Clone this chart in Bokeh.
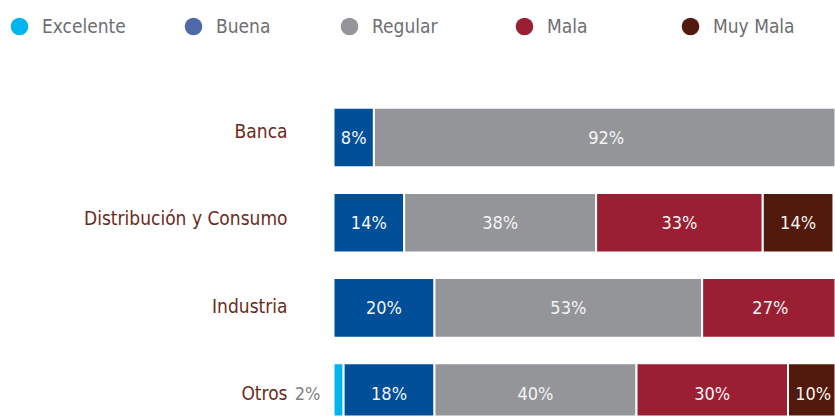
from bokeh.plotting import figure
from bokeh.models import ColumnDataSource, Range1d, Legend, LegendItem
from bokeh.core.properties import value
from bokeh.embed import file_html
from bokeh.resources import INLINE

# ---- data ----
categories = ["Banca", "Distribución y Consumo", "Industria", "Otros"]
series = ["Excelente", "Buena", "Regular", "Mala", "Muy Mala"]
excelente = [0, 0, 0, 2]
buena = [8, 14, 20, 18]
regular = [92, 38, 53, 40]
mala = [0, 33, 27, 30]
muy_mala = [0, 14, 0, 10]

bar_colors = ["#00b5ef", "#004f98", "#939598", "#9b1f33", "#521a0c"]
legend_colors = ["#00b5ef", "#4f69a8", "#939598", "#9b1f33", "#521a0c"]

FONT_NAME = "Liberation Sans Narrow, DejaVu Sans Condensed, Roboto"
FONT = value(FONT_NAME)

# ---- geometry (styles) ----
W, H = 835, 416
PX_PER_UNIT = 5.05
X0_PX = 333          # pixel position of value 0
ROW0_PX = 137        # pixel centre of first row
ROW_STEP = 85.2      # pixels between rows
LEGEND_CENTERS_PX = [19, 193, 349, 524, 690]   # legend marker centres
LEGEND_CY_PX = 25.5
GLYPH = 44

p = figure(width=W, height=H, output_backend="svg", toolbar_location=None,
           min_border=0, outline_line_color=None,
           x_range=Range1d(-X0_PX / PX_PER_UNIT, (W - X0_PX) / PX_PER_UNIT),
           y_range=Range1d((H - ROW0_PX) / ROW_STEP, -ROW0_PX / ROW_STEP))
p.axis.visible = False
p.grid.visible = False
p.background_fill_color = "white"
p.border_fill_color = "white"

# ---- bars ----
all_series = [excelente, buena, regular, mala, muy_mala]
seg = dict(y=[], left=[], right=[], color=[], mid=[], label=[])
out = dict(y=[], label=[])
for i, cat in enumerate(categories):
    acc = 0
    for s, vals in enumerate(all_series):
        v = vals[i]
        if v > 0:
            seg["y"].append(i)
            seg["left"].append(acc)
            seg["right"].append(acc + v)
            seg["color"].append(bar_colors[s])
            seg["mid"].append(acc + v / 2)
            if v >= 5:
                seg["label"].append(f"{v}%")
            else:
                seg["label"].append("")
                out["y"].append(i)
                out["label"].append(f"{v}%")
        acc += v

src = ColumnDataSource(seg)
p.hbar(y="y", left="left", right="right", height=0.70, fill_color="color",
       line_color="white", line_width=2, source=src)
p.text(x="mid", y="y", text="label", source=src, text_align="center",
       text_baseline="middle", text_color="#f4f4f4", text_font=FONT,
       text_font_size="18px")

out_src = ColumnDataSource(dict(x=[0] * len(out["y"]), **out))
p.text(x="x", y="y", text="label", source=out_src, x_offset=-13,
       text_align="right", text_baseline="middle", text_color="#808285",
       text_font=FONT, text_font_size="18px")

# category labels (label rows sit slightly higher than bar rows at the top)
cat_src = ColumnDataSource(dict(x=[0] * len(categories),
                                y=list(range(len(categories))),
                                text=categories,
                                dy=[-7 + 2.4 * i for i in range(len(categories))]))
p.text(x="x", y="y", text="text", source=cat_src, x_offset=-46, y_offset="dy",
       text_align="right", text_baseline="middle", text_color="#6b2a20",
       text_font=FONT, text_font_size="19px")

# ---- legend (one entry per series, placed like the original) ----
nan = float("nan")
for name, c, cx in zip(series, legend_colors, LEGEND_CENTERS_PX):
    r = p.scatter(x=[nan], y=[nan], marker="circle", size=16, fill_color=c,
                  line_color=None)
    lg = Legend(items=[LegendItem(label=name, renderers=[r])],
                location=(cx - GLYPH / 2, H - (LEGEND_CY_PX + GLYPH / 2)),
                glyph_width=GLYPH, glyph_height=GLYPH, label_standoff=1,
                padding=0, margin=0,
                label_text_font=FONT_NAME, label_text_font_size="19px",
                label_text_color="#6d6e71",
                background_fill_alpha=0, border_line_alpha=0)
    p.add_layout(lg)

open("out.html", "w").write(file_html(p, INLINE))
